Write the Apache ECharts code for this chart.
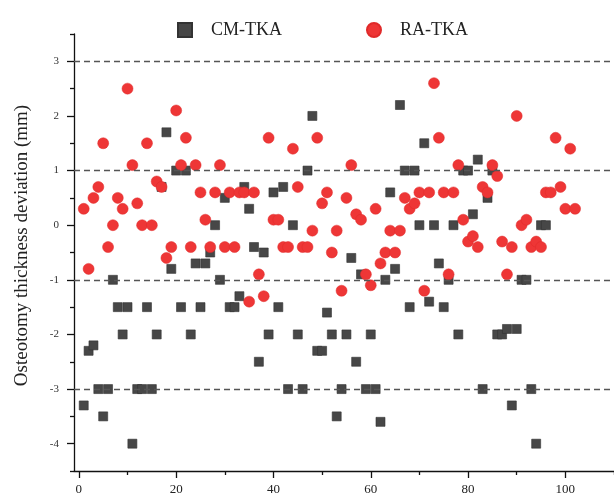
<!DOCTYPE html>
<html><head><meta charset="utf-8">
<script src="https://cdn.jsdelivr.net/npm/echarts@6/dist/echarts.min.js"></script>
<style>html,body{margin:0;padding:0;background:#fff}#c{width:614px;height:496px}</style>
</head><body><div id="c"></div>
<script>
// Case number is the position in the array (1-based)
const cmTka = [-3.3,-2.3,-2.2,-3,-3.5,-3,-1,-1.5,-2,-1.5,
  -4,-3,-3,-1.5,-3,-2,0.7,1.7,-0.8,1.0,
  -1.5,1.0,-2,-0.7,-1.5,-0.7,-0.5,0,-1,0.5,
  -1.5,-1.5,-1.3,0.7,0.3,-0.4,-2.5,-0.5,-2,0.6,
  -1.5,0.7,-3,0,-2,-3,1.0,2.0,-2.3,-2.3,
  -1.6,-2,-3.5,-3,-2,-0.6,-2.5,-0.9,-3,-2,
  -3,-3.6,-1,0.6,-0.8,2.2,1.0,-1.5,1.0,0,
  1.5,-1.4,0,-0.7,-1.5,-1,0,-2,1.0,1.0,
  0.2,1.2,-3,0.5,1.0,-2,-2,-1.9,-3.3,-1.9,
  -1,-1,-3,-4,0,0];
const raTka = [0.3,-0.8,0.5,0.7,1.5,-0.4,0,0.5,0.3,2.5,
  1.1,0.4,0,1.5,0,0.8,0.7,-0.6,-0.4,2.1,
  1.1,1.6,-0.4,1.1,0.6,0.1,-0.4,0.6,1.1,-0.4,
  0.6,-0.4,0.6,0.6,-1.4,0.6,-0.9,-1.3,1.6,0.1,
  0.1,-0.4,-0.4,1.4,0.7,-0.4,-0.4,-0.1,1.6,0.4,
  0.6,-0.5,-0.1,-1.2,0.5,1.1,0.2,0.1,-0.9,-1.1,
  0.3,-0.7,-0.5,-0.1,-0.5,-0.1,0.5,0.3,0.4,0.6,
  -1.2,0.6,2.6,1.6,0.6,-0.9,0.6,1.1,0.1,-0.3,
  -0.2,-0.4,0.7,0.6,1.1,0.9,-0.3,-0.9,-0.4,2.0,
  0,0.1,-0.4,-0.3,-0.4,0.6,0.6,1.6,0.7,0.3,
  1.4,0.3];
const xMajorTicks = [0,20,40,60,80,100];
const xMinorTicks = [10,30,50,70,90,110];
const yMajorTicks = [-4,-3,-2,-1,0,1,2,3];
const yMinorTicks = [-4.5,-3.5,-2.5,-1.5,-0.5,0.5,1.5,2.5,3.5];
const refLines = [3,1,-1,-3];
const seriesNames = ['CM-TKA','RA-TKA'];
const yTitle = 'Osteotomy thickness deviation (mm)';

const FONT = 'Liberation Serif, Times New Roman, serif';
const toPts = arr => arr.map((v,i)=>[i+1,v]);
const chart = echarts.init(document.getElementById('c'), null, {renderer:'canvas'});
const axisLineStyle = {color:'#111', width:1.3};
chart.setOption({
  animation:false,
  backgroundColor:'#fff',
  legend:{
    data:seriesNames, left:172, top:16, itemWidth:14, itemHeight:14, itemGap:84,
    textStyle:{fontFamily:FONT, fontSize:18, color:'#222', padding:[0,0,0,14]}
  },
  grid:{left:74, right:-2, top:34, bottom:25, containLabel:false},
  xAxis:[
    {type:'value', min:-1, max:110,
     axisLine:{show:true, onZero:false, lineStyle:axisLineStyle},
     axisTick:{show:true, customValues:xMajorTicks, length:7, lineStyle:axisLineStyle},
     axisLabel:{customValues:xMajorTicks, fontFamily:FONT, fontSize:13, color:'#222', margin:12},
     splitLine:{show:false}},
    {type:'value', min:-1, max:110, position:'bottom',
     axisLine:{show:false, onZero:false},
     axisTick:{show:true, customValues:xMinorTicks, length:4, lineStyle:axisLineStyle},
     axisLabel:{show:false}, splitLine:{show:false}}
  ],
  yAxis:[
    {type:'value', min:-4.5, max:3.5, position:'left',
     name:yTitle, nameLocation:'middle', nameGap:42,
     nameTextStyle:{fontFamily:FONT, fontSize:19, color:'#222', padding:[0,0,0,14]},
     axisLine:{show:true, onZero:false, lineStyle:axisLineStyle},
     axisTick:{show:true, customValues:yMajorTicks, length:7, lineStyle:axisLineStyle},
     axisLabel:{customValues:yMajorTicks, fontFamily:FONT, fontSize:11, color:'#333', margin:15},
     splitLine:{show:false}},
    {type:'value', min:-4.5, max:3.5, position:'left', offset:0,
     axisLine:{show:false, onZero:false},
     axisTick:{show:true, customValues:yMinorTicks, length:4, lineStyle:axisLineStyle},
     axisLabel:{show:false}, splitLine:{show:false}}
  ],
  series:[
    {name:seriesNames[0], type:'scatter', xAxisIndex:0, yAxisIndex:0,
     symbol:'rect', symbolSize:9, data:toPts(cmTka),
     itemStyle:{color:'#474747', borderColor:'#333', borderWidth:0.6, opacity:1}, z:2},
    {name:seriesNames[1], type:'scatter', xAxisIndex:0, yAxisIndex:0,
     symbol:'circle', symbolSize:11, data:toPts(raTka),
     itemStyle:{color:'#ee3636', borderColor:'#e02a2a', borderWidth:0.5, opacity:1}, z:3,
     markLine:{silent:true, symbol:'none', label:{show:false},
       lineStyle:{type:[6,4], color:'#555', width:1.4},
       data:refLines.map(v=>({yAxis:v}))}}
  ]
});
</script></body></html>
